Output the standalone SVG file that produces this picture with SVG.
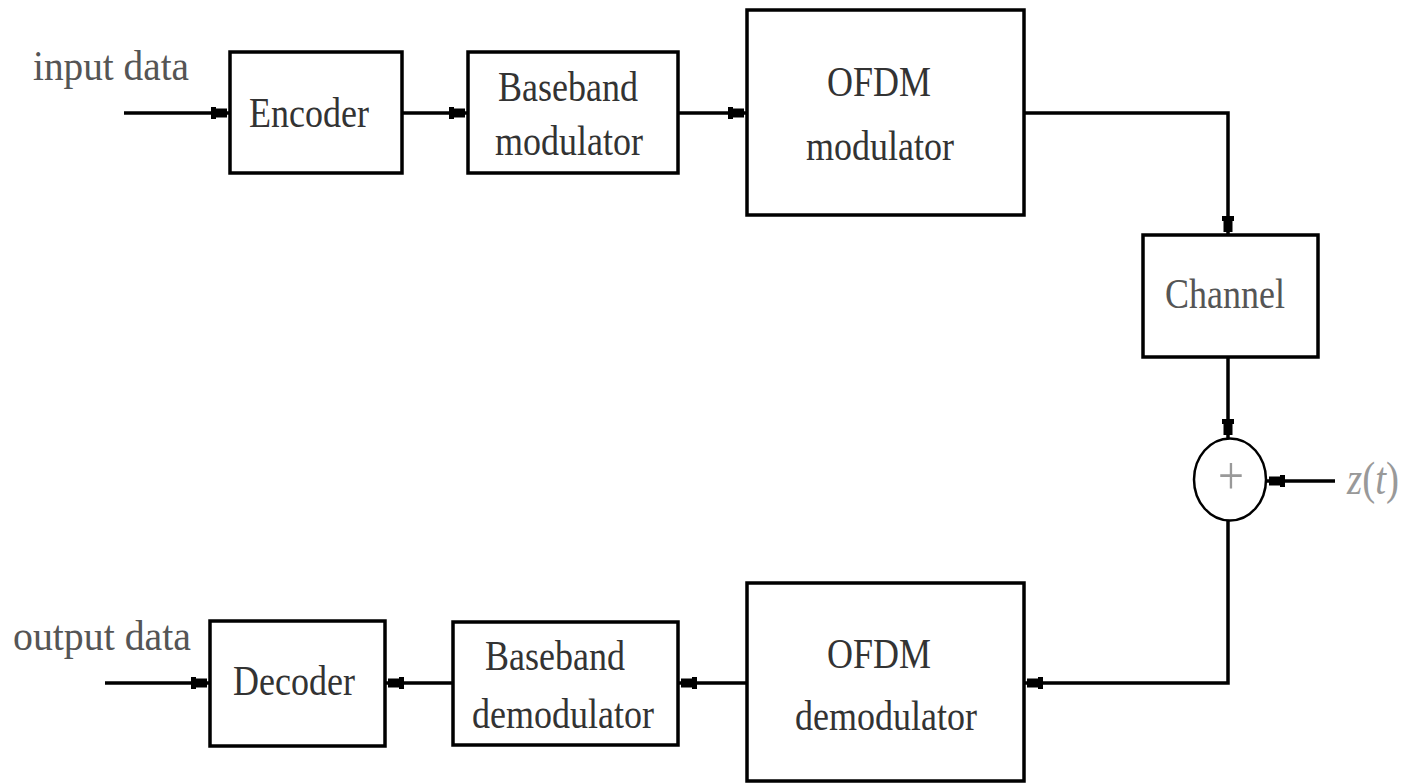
<svg xmlns="http://www.w3.org/2000/svg" width="1404" height="784" viewBox="0 0 1404 784">
  <defs>
    <style>
      .box { fill: #fff; stroke: #000; stroke-width: 3.5; }
      .sum { fill: #fff; stroke: #000; stroke-width: 2.5; }
      .wire { fill: none; stroke: #000; stroke-width: 3.5; marker-end: url(#head); }
      text { font-family: "Liberation Serif", "Times New Roman", serif; font-size: 36px; fill: #333; }
      .c { text-anchor: middle; }
      .lbl { fill: #555; }
      .light { fill: #999; }
      .plus { font-size: 46px; }
      .math { font-size: 39px; }
    </style>
    <!-- small block arrowhead that stops a few pixels short of the target edge -->
    <marker id="head" markerUnits="userSpaceOnUse" markerWidth="20" markerHeight="12" viewBox="0 0 20 12" refX="19" refY="6" orient="auto">
      <path d="M0,0 H5 V1.5 H16 V10.5 H5 V12 H0 Z" fill="#000"/>
    </marker>
  </defs>

  <rect width="1404" height="784" fill="#fff"/>

  <!-- signal path -->
  <g id="connectors">
    <path class="wire" d="M124,113 H230"/>
    <path class="wire" d="M402,113 H468"/>
    <path class="wire" d="M678,113 H747"/>
    <path class="wire" d="M1024,113 H1228 V235"/>
    <path class="wire" d="M1228,357 V438"/>
    <path class="wire" d="M1335,481 H1266"/>
    <path class="wire" d="M1228,521 V683 H1024"/>
    <path class="wire" d="M747,683 H678"/>
    <path class="wire" d="M453,683 H385"/>
    <path class="wire" d="M105,683 H210"/>
  </g>

  <!-- transmitter chain -->
  <g id="input-label">
    <text class="lbl" transform="translate(33 80) scale(1 1.2)" textLength="156" lengthAdjust="spacingAndGlyphs">input data</text>
  </g>
  <g id="encoder">
    <rect class="box" x="230" y="52" width="172" height="121"/>
    <text class="c" transform="translate(309 127) scale(1 1.2)">Encoder</text>
  </g>
  <g id="baseband-modulator">
    <rect class="box" x="468" y="52" width="210" height="121"/>
    <text class="c" transform="translate(568 101) scale(1 1.2)">Baseband</text>
    <text class="c" transform="translate(569 155) scale(1 1.2)">modulator</text>
  </g>
  <g id="ofdm-modulator">
    <rect class="box" x="747" y="10" width="277" height="205"/>
    <text class="c" transform="translate(879 96) scale(1 1.2)">OFDM</text>
    <text class="c" transform="translate(880 160) scale(1 1.2)">modulator</text>
  </g>

  <!-- channel and additive noise -->
  <g id="channel">
    <rect class="box" x="1143" y="235" width="175" height="122"/>
    <text class="c lbl" transform="translate(1225 308) scale(1 1.2)">Channel</text>
  </g>
  <g id="adder">
    <ellipse class="sum" cx="1230" cy="479.5" rx="36" ry="41"/>
    <text class="c light plus" transform="translate(1231 494) scale(1 1.2)">+</text>
  </g>
  <g id="noise-label">
    <text class="light math" transform="translate(1347 494) scale(1 1.2)"><tspan font-style="italic">z</tspan>(<tspan font-style="italic">t</tspan>)</text>
  </g>

  <!-- receiver chain -->
  <g id="ofdm-demodulator">
    <rect class="box" x="747" y="583" width="277" height="198"/>
    <text class="c" transform="translate(879 668) scale(1 1.2)">OFDM</text>
    <text class="c" transform="translate(886 730) scale(1 1.2)">demodulator</text>
  </g>
  <g id="baseband-demodulator">
    <rect class="box" x="453" y="622" width="225" height="123"/>
    <text class="c" transform="translate(555 670) scale(1 1.2)">Baseband</text>
    <text class="c" transform="translate(563 728) scale(1 1.2)">demodulator</text>
  </g>
  <g id="decoder">
    <rect class="box" x="210" y="621" width="175" height="125"/>
    <text class="c" transform="translate(294 695) scale(1 1.2)">Decoder</text>
  </g>
  <g id="output-label">
    <text class="lbl" transform="translate(13 650) scale(1 1.2)" textLength="178" lengthAdjust="spacingAndGlyphs">output data</text>
  </g>
</svg>
